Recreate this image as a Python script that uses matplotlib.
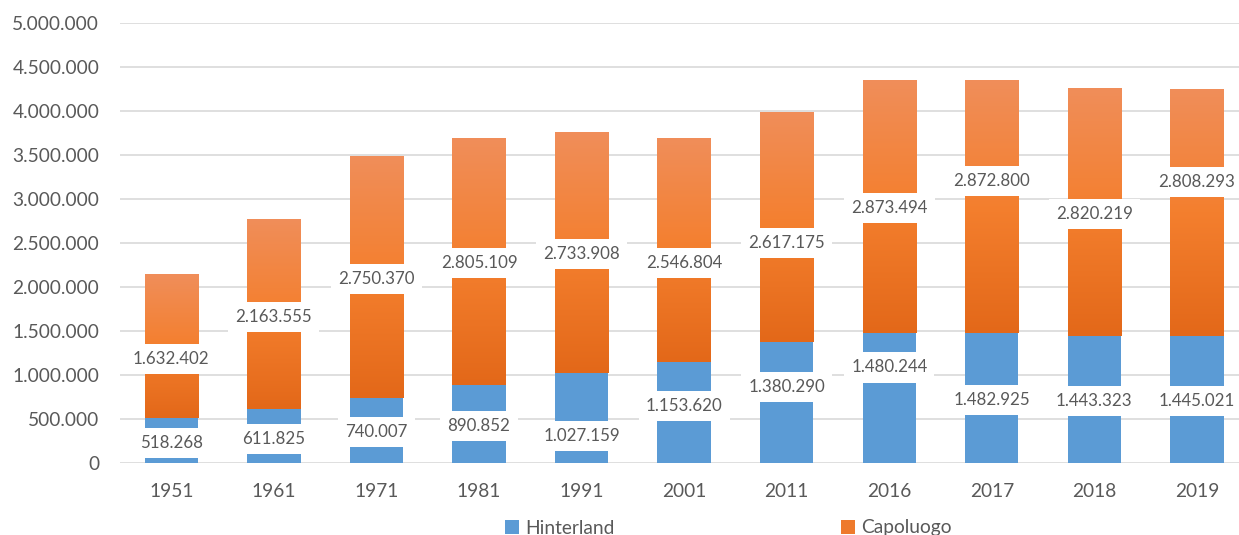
import numpy as np
import matplotlib
matplotlib.use("Agg")
import matplotlib.pyplot as plt
from matplotlib.colors import LinearSegmentedColormap
from matplotlib.patches import Patch

plt.rcParams['font.family'] = ['Lato', 'DejaVu Sans']

years = ["1951", "1961", "1971", "1981", "1991", "2001", "2011", "2016", "2017", "2018", "2019"]
hinterland = [518268, 611825, 740007, 890852, 1027159, 1153620, 1380290, 1480244, 1482925, 1443323, 1445021]
capoluogo = [1632402, 2163555, 2750370, 2805109, 2733908, 2546804, 2617175, 2873494, 2872800, 2820219, 2808293]
y_ticks = [0, 500000, 1000000, 1500000, 2000000, 2500000, 3000000, 3500000, 4000000, 4500000, 5000000]

# label placement (as in the source, labels were moved by hand)
hint_label_y = [0.234e6, 0.276e6, 0.352e6, 0.424e6, 0.310e6, 0.651e6, 0.864e6, 1.089e6, 0.719e6, 0.708e6, 0.708e6]
cap_label_y = [1.182e6, 1.666e6, 2.091e6, 2.273e6, 2.375e6, 2.273e6, 2.500e6, 2.901e6, 3.211e6, 2.833e6, 3.193e6]

def fmt(v):
    return f"{v:,}".replace(",", ".")

BLUE = "#5B9BD5"
TXT = "#595959"
GRID = "#D9D9D9"
orange_cmap = LinearSegmentedColormap.from_list(
    "og", [(0.0, "#F08E5A"), (0.5, "#F47F2E"), (1.0, "#E36819")])

fig = plt.figure(figsize=(12.39, 5.35), dpi=100)
W, H = 1239, 535
ax = fig.add_axes([120 / W, (H - 463.3) / H, (W - 120) / W, (463.3 - 23.3) / H])

x = np.arange(len(years))
bw = 0.52
ax.bar(x, hinterland, width=bw, color=BLUE, zorder=2)
cbars = ax.bar(x, capoluogo, width=bw, bottom=hinterland, color="none", zorder=2)

grad = np.linspace(0, 1, 256).reshape(-1, 1)
for b in cbars:
    x0, y0 = b.get_x(), b.get_y()
    im = ax.imshow(grad, cmap=orange_cmap, aspect="auto", origin="upper",
                   extent=(x0, x0 + b.get_width(), y0, y0 + b.get_height()),
                   zorder=2, interpolation="bilinear")
    im.set_clip_path(b)

box = dict(boxstyle="square,pad=0.42", facecolor="white", edgecolor="none")
for i in range(len(years)):
    ax.text(x[i], hint_label_y[i], fmt(hinterland[i]), ha="center", va="center",
            fontsize=12.2, color=TXT, bbox=box, zorder=5)
    ax.text(x[i], cap_label_y[i], fmt(capoluogo[i]), ha="center", va="center",
            fontsize=12.2, color=TXT, bbox=box, zorder=5)

ax.set_xlim(-0.5, 10.41)
ax.set_ylim(0, 5000000)
ax.set_yticks(y_ticks)
ax.set_yticklabels([fmt(v) for v in y_ticks])
ax.set_xticks(x)
ax.set_xticklabels(years)
ax.tick_params(axis="both", length=0, labelsize=13.8, colors=TXT)
ax.tick_params(axis="y", pad=15)
ax.tick_params(axis="x", pad=14)
ax.yaxis.grid(True, color=GRID, linewidth=1.2)
ax.set_axisbelow(True)
for s in ["top", "right", "left", "bottom"]:
    ax.spines[s].set_visible(False)

handles = [Patch(facecolor=BLUE, edgecolor="none"),
           Patch(facecolor="#EE7A2C", edgecolor="none")]
fig.legend(handles, ["Hinterland", "Capoluogo"], loc="center",
           bbox_to_anchor=(728 / W, 7 / H), ncol=2, frameon=False,
           fontsize=13.8, labelcolor=TXT, columnspacing=11.8,
           handlelength=0.75, handleheight=0.75, handletextpad=0.3)

fig.savefig("out.png", dpi=100)
